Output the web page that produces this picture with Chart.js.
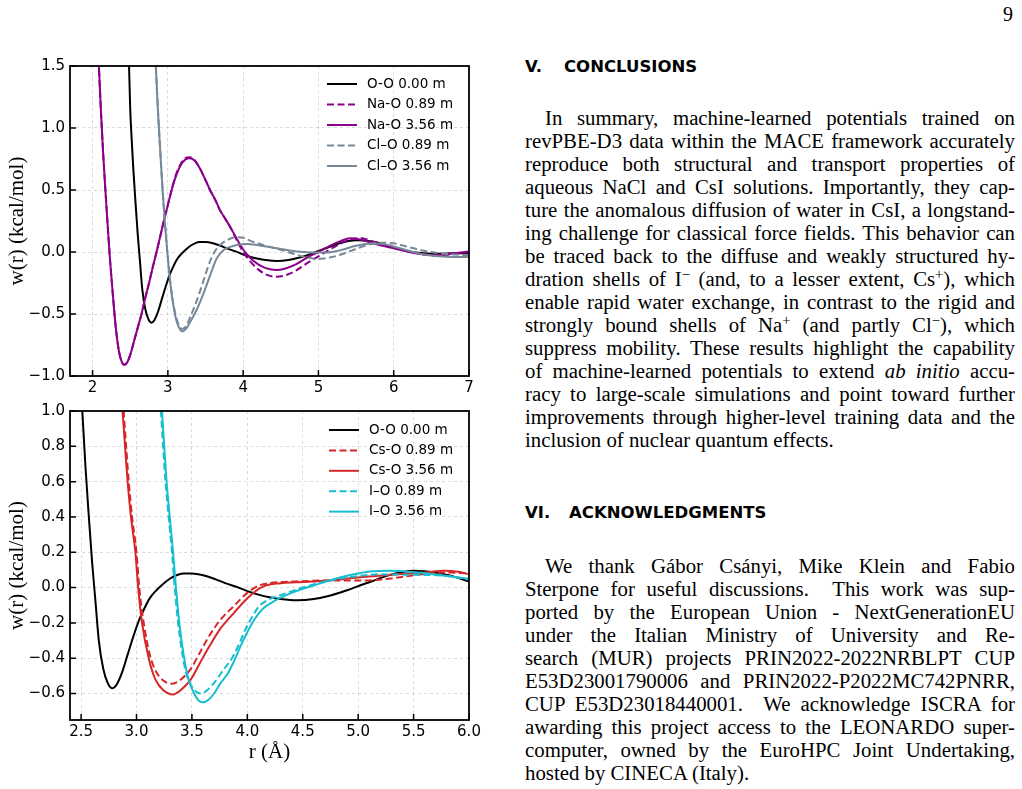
<!DOCTYPE html>
<html><head><meta charset="utf-8">
<script src="https://cdn.jsdelivr.net/npm/chart.js@4.4.1/dist/chart.umd.min.js"></script>
<style>
html,body{margin:0;padding:0;background:#fff;width:1022px;height:789px;overflow:hidden;position:relative;}
canvas{position:absolute;left:0;}
#c1{top:50px;}
#c2{top:395px;}
.ln{position:absolute;left:525px;width:490px;font-family:"Liberation Serif",serif;font-size:20.8px;line-height:23px;color:#000;text-align:justify;text-align-last:justify;}
.ln.ind{left:545px;width:470px;}
.ln.last{text-align:left;text-align-last:left;}
sup{font-size:0.7em;line-height:0;vertical-align:0.45em;}
.hd{position:absolute;font-family:"DejaVu Sans",sans-serif;font-weight:bold;font-size:16.5px;line-height:20px;color:#000;white-space:nowrap;}
.pg{position:absolute;left:1003px;top:3px;font-family:"Liberation Serif",serif;font-size:20px;line-height:23px;}
</style>
</head><body>
<div class="pg">9</div>
<canvas id="c1" width="490" height="350"></canvas>
<canvas id="c2" width="490" height="394"></canvas>

<div class="hd" style="left:525px;top:57px;">V.</div>
<div class="hd" style="left:564px;top:57px;">CONCLUSIONS</div>
<div class="ln ind" style="top:106px;">In summary, machine-learned potentials trained on</div>
<div class="ln" style="top:129px;">revPBE-D3 data within the MACE framework accurately</div>
<div class="ln" style="top:152px;">reproduce both structural and transport properties of</div>
<div class="ln" style="top:175px;">aqueous NaCl and CsI solutions. Importantly, they cap-</div>
<div class="ln" style="top:198px;">ture the anomalous diffusion of water in CsI, a longstand-</div>
<div class="ln" style="top:221px;">ing challenge for classical force fields. This behavior can</div>
<div class="ln" style="top:244px;">be traced back to the diffuse and weakly structured hy-</div>
<div class="ln" style="top:267px;">dration shells of I<sup>−</sup> (and, to a lesser extent, Cs<sup>+</sup>), which</div>
<div class="ln" style="top:290px;">enable rapid water exchange, in contrast to the rigid and</div>
<div class="ln" style="top:313px;">strongly bound shells of Na<sup>+</sup> (and partly Cl<sup>−</sup>), which</div>
<div class="ln" style="top:336px;">suppress mobility. These results highlight the capability</div>
<div class="ln" style="top:359px;">of machine-learned potentials to extend <i>ab initio</i> accu-</div>
<div class="ln" style="top:382px;">racy to large-scale simulations and point toward further</div>
<div class="ln" style="top:405px;">improvements through higher-level training data and the</div>
<div class="ln last" style="top:428px;">inclusion of nuclear quantum effects.</div>

<div class="hd" style="left:525px;top:503px;">VI.</div>
<div class="hd" style="left:569px;top:503px;">ACKNOWLEDGMENTS</div>
<div class="ln ind" style="top:554px;">We thank Gábor Csányi, Mike Klein and Fabio</div>
<div class="ln" style="top:577px;">Sterpone for useful discussions. &nbsp;This work was sup-</div>
<div class="ln" style="top:600px;">ported by the European Union - NextGenerationEU</div>
<div class="ln" style="top:623px;">under the Italian Ministry of University and Re-</div>
<div class="ln" style="top:646px;">search (MUR) projects PRIN2022-2022NRBLPT CUP</div>
<div class="ln" style="top:669px;">E53D23001790006 and PRIN2022-P2022MC742PNRR,</div>
<div class="ln" style="top:692px;">CUP E53D23018440001. &nbsp;We acknowledge ISCRA for</div>
<div class="ln" style="top:715px;">awarding this project access to the LEONARDO super-</div>
<div class="ln" style="top:738px;">computer, owned by the EuroHPC Joint Undertaking,</div>
<div class="ln last" style="top:761px;">hosted by CINECA (Italy).</div>

<script>
// ---------- tick labels ----------
const topXTicks = [2, 3, 4, 5, 6, 7];
const topYTicks = [-1.0, -0.5, 0.0, 0.5, 1.0, 1.5];
const botXTicks = [2.5, 3.0, 3.5, 4.0, 4.5, 5.0, 5.5, 6.0];
const botYTicks = [-0.6, -0.4, -0.2, 0.0, 0.2, 0.4, 0.6, 0.8, 1.0];

// ---------- O-O 0.00 m (both panels) ----------
const rOO = [2.44,2.46,2.48,2.50,2.52,2.54,2.57,2.60,2.63,2.66,2.70,2.74,2.78,2.82,2.87,2.92,2.97,3.02,3.07,3.12,3.18,3.24,3.30,3.36,3.42,3.50,3.60,3.70,3.80,3.90,4.00,4.10,4.20,4.30,4.45,4.60,4.75,4.90,5.00,5.10,5.25,5.40,5.50,5.60,5.75,5.90,6.00,6.20,6.40,6.60,6.80,7.00];
const wOO = [2.6,2.1,1.6,1.15,0.9,0.68,0.4,0.14,-0.08,-0.3,-0.46,-0.54,-0.57,-0.55,-0.48,-0.38,-0.28,-0.19,-0.12,-0.06,-0.015,0.02,0.05,0.07,0.08,0.08,0.07,0.05,0.025,0.005,-0.02,-0.04,-0.055,-0.065,-0.072,-0.065,-0.045,-0.015,0.008,0.03,0.065,0.088,0.095,0.093,0.08,0.055,0.035,0.005,-0.01,-0.015,-0.01,-0.01];

// ---------- Na-O ----------
const rNaO = [2.04,2.06,2.08,2.11,2.14,2.17,2.20,2.23,2.27,2.31,2.35,2.39,2.42,2.46,2.50,2.55,2.60,2.65,2.70,2.75,2.80,2.85,2.90,2.95,3.00,3.05,3.10,3.17,3.23,3.29,3.35,3.42,3.50,3.56,3.63,3.69,3.76,3.83,3.92,4.00,4.10,4.20,4.30,4.44,4.55,4.70,4.85,5.00,5.15,5.30,5.42,5.55,5.70,5.85,6.00,6.20,6.40,6.55,6.75,7.00];
const wNaO089 = [2.15,1.85,1.55,1.15,0.8,0.5,0.22,-0.05,-0.35,-0.62,-0.8,-0.89,-0.91,-0.89,-0.83,-0.72,-0.61,-0.5,-0.37,-0.25,-0.12,0.0,0.13,0.26,0.38,0.5,0.61,0.71,0.755,0.765,0.745,0.68,0.58,0.5,0.42,0.34,0.27,0.2,0.09,0.0,-0.08,-0.14,-0.18,-0.2,-0.19,-0.15,-0.09,-0.035,0.02,0.07,0.1,0.113,0.09,0.06,0.035,0.005,-0.02,-0.03,-0.02,0.0];
const wNaO356 = [2.15,1.85,1.55,1.15,0.8,0.5,0.22,-0.05,-0.35,-0.62,-0.8,-0.89,-0.91,-0.89,-0.83,-0.72,-0.61,-0.5,-0.37,-0.25,-0.12,0.0,0.13,0.26,0.38,0.5,0.6,0.7,0.745,0.756,0.74,0.68,0.58,0.5,0.42,0.34,0.27,0.2,0.1,0.02,-0.05,-0.1,-0.13,-0.145,-0.135,-0.1,-0.045,0.0,0.05,0.09,0.11,0.1,0.075,0.05,0.03,0.0,-0.02,-0.025,-0.015,0.005];

// ---------- Cl-O ----------
const rClO089 = [2.80,2.84,2.87,2.90,2.93,2.96,2.99,3.02,3.06,3.10,3.14,3.19,3.24,3.30,3.36,3.42,3.50,3.57,3.64,3.72,3.80,3.90,4.00,4.10,4.30,4.50,4.70,4.85,5.00,5.15,5.30,5.50,5.70,5.85,6.00,6.20,6.40,6.60,6.80,7.00];
const wClO089 = [2.0,1.5,1.12,0.8,0.5,0.24,0.02,-0.18,-0.37,-0.5,-0.58,-0.62,-0.6,-0.52,-0.43,-0.33,-0.18,-0.06,0.02,0.07,0.1,0.12,0.115,0.09,0.05,0.017,-0.02,-0.045,-0.055,-0.045,-0.02,0.025,0.065,0.075,0.07,0.04,0.01,-0.01,-0.02,-0.025];
const rClO356 = [2.80,2.84,2.87,2.90,2.93,2.96,2.99,3.02,3.06,3.10,3.14,3.19,3.24,3.30,3.38,3.47,3.56,3.65,3.75,3.85,3.95,4.05,4.20,4.40,4.60,4.80,5.00,5.15,5.30,5.50,5.70,5.85,6.00,6.20,6.40,6.60,6.80,7.00];
const wClO356 = [2.0,1.5,1.12,0.8,0.5,0.24,0.02,-0.18,-0.38,-0.52,-0.6,-0.64,-0.62,-0.56,-0.47,-0.34,-0.19,-0.05,0.02,0.045,0.06,0.065,0.055,0.035,0.015,0.0,-0.005,-0.002,0.015,0.05,0.068,0.065,0.045,0.01,-0.02,-0.035,-0.04,-0.04];

// ---------- Cs-O ----------
const rCsO089 = [2.85,2.884,2.91,2.93,2.96,3.00,3.025,3.065,3.12,3.18,3.25,3.31,3.38,3.49,3.57,3.66,3.76,3.87,4.00,4.10,4.20,4.44,4.74,5.04,5.28,5.50,5.80,6.00];
const wCsO089 = [1.3,1.0,0.77,0.6,0.4,0.2,0.0,-0.2,-0.38,-0.48,-0.53,-0.545,-0.53,-0.46,-0.37,-0.27,-0.18,-0.11,-0.03,0.01,0.025,0.035,0.04,0.04,0.05,0.07,0.085,0.08];
const rCsO356 = [2.84,2.874,2.90,2.92,2.95,2.99,3.015,3.05,3.11,3.17,3.24,3.33,3.40,3.49,3.57,3.66,3.76,3.87,4.00,4.14,4.30,4.44,4.74,5.04,5.35,5.60,5.77,5.90,6.00];
const wCsO356 = [1.3,1.0,0.77,0.6,0.4,0.2,0.0,-0.2,-0.4,-0.52,-0.58,-0.605,-0.58,-0.52,-0.43,-0.33,-0.23,-0.15,-0.06,0.005,0.025,0.03,0.04,0.06,0.075,0.085,0.095,0.09,0.075];

// ---------- I-O ----------
const rIO089 = [3.19,3.22,3.26,3.29,3.32,3.345,3.375,3.42,3.46,3.51,3.55,3.58,3.63,3.70,3.78,3.87,3.94,3.98,4.05,4.10,4.20,4.29,4.50,4.74,5.00,5.20,5.50,5.77,6.00];
const wIO089 = [1.3,1.0,0.61,0.4,0.2,0.0,-0.2,-0.4,-0.51,-0.57,-0.595,-0.6,-0.585,-0.54,-0.47,-0.39,-0.3,-0.24,-0.16,-0.11,-0.065,-0.045,0.0,0.04,0.065,0.075,0.072,0.068,0.045];
const rIO356 = [3.20,3.23,3.27,3.30,3.33,3.356,3.386,3.43,3.47,3.52,3.56,3.60,3.65,3.70,3.76,3.82,3.87,3.94,4.01,4.07,4.14,4.22,4.29,4.40,4.50,4.60,4.74,4.89,5.00,5.13,5.28,5.53,5.77,6.00];
const wIO356 = [1.3,1.0,0.61,0.4,0.2,0.0,-0.2,-0.4,-0.52,-0.6,-0.64,-0.65,-0.635,-0.6,-0.54,-0.49,-0.43,-0.33,-0.24,-0.175,-0.12,-0.085,-0.06,-0.03,-0.007,0.012,0.04,0.065,0.08,0.092,0.095,0.085,0.068,0.05];

// ---------- helpers ----------
const DASH = [7, 3.5];
function mkDs(label, r, w, color, dashed) {
  return {
    label, data: r.map((x, i) => ({x: x, y: w[i]})),
    borderColor: color, backgroundColor: color, borderWidth: 2,
    borderDash: dashed ? DASH : [], pointRadius: 0, pointHoverRadius: 0,
    fill: false, cubicInterpolationMode: 'monotone'
  };
}
const minus = s => s.replace('-', '\u2212');

const framePlugin = {
  id: 'frame',
  afterDatasetsDraw(chart) {
    const {ctx, chartArea: a, scales: {x, y}} = chart;
    ctx.save();
    ctx.strokeStyle = '#000'; ctx.lineWidth = 1.5; ctx.setLineDash([]);
    ctx.beginPath();
    x.ticks.forEach(t => { const p = x.getPixelForValue(t.value); ctx.moveTo(p, a.bottom); ctx.lineTo(p, a.bottom - 6); });
    y.ticks.forEach(t => { const p = y.getPixelForValue(t.value); ctx.moveTo(a.left, p); ctx.lineTo(a.left + 6, p); });
    ctx.stroke();
    ctx.lineWidth = 1.8;
    ctx.strokeRect(a.left, a.top, a.right - a.left, a.bottom - a.top);
    ctx.restore();
  }
};
const legendPlugin = {
  id: 'inlegend',
  afterDraw(chart, args, opts) {
    const {ctx, chartArea: a} = chart;
    ctx.save();
    ctx.font = '13.5px "DejaVu Sans"';
    ctx.textBaseline = 'middle';
    chart.data.datasets.forEach((ds, i) => {
      const yy = a.top + opts.top + i * opts.gap;
      const x0 = a.right - opts.fromRight;
      ctx.strokeStyle = ds.borderColor; ctx.lineWidth = 2;
      ctx.setLineDash(ds.borderDash || []);
      ctx.beginPath(); ctx.moveTo(x0, yy); ctx.lineTo(x0 + 30, yy); ctx.stroke();
      ctx.setLineDash([]);
      ctx.fillStyle = '#000';
      ctx.fillText(ds.label, x0 + 40, yy);
    });
    ctx.restore();
  }
};

function makeChart(id, datasets, xr, yr, xTicks, yTicks, xFmt, xTitle, pad, xH, legOpts) {
  const n = datasets.length;
  datasets.forEach((d, i) => { d.order = n - i; });
  const gridC = 'rgba(0,0,0,0.14)';
  return new Chart(document.getElementById(id), {
    type: 'line',
    data: {datasets},
    options: {
      responsive: false, animation: false, events: [],
      layout: {padding: pad},
      plugins: {legend: {display: false}, tooltip: {enabled: false}, inlegend: legOpts},
      scales: {
        x: {
          type: 'linear', min: xr[0], max: xr[1],
          afterBuildTicks: s => { s.ticks = xTicks.map(v => ({value: v})); },
          afterFit: s => { s.height = xH; },
          grid: {color: gridC, lineWidth: 1, drawTicks: false},
          border: {display: false, dash: [3, 3]},
          ticks: {color: '#000', font: {family: 'DejaVu Sans', size: 15}, padding: 3, maxRotation: 0, autoSkip: false, callback: v => xFmt(v)},
          title: xTitle ? {display: true, text: xTitle, color: '#000', font: {family: 'Liberation Serif', size: 21}, padding: {top: 0, bottom: 5}} : {display: false}
        },
        y: {
          type: 'linear', min: yr[0], max: yr[1],
          afterBuildTicks: s => { s.ticks = yTicks.map(v => ({value: v})); },
          afterFit: s => { s.width = 70; },
          grid: {color: gridC, lineWidth: 1, drawTicks: false},
          border: {display: false, dash: [3, 3]},
          ticks: {color: '#000', font: {family: 'DejaVu Sans', size: 15}, padding: 5, autoSkip: false, callback: v => minus(Number(v).toFixed(1))},
          title: {display: true, text: 'w(r) (kcal/mol)', color: '#000', font: {family: 'Liberation Serif', size: 21}, padding: {top: 5, bottom: 0}}
        }
      }
    },
    plugins: [framePlugin, legendPlugin]
  });
}

makeChart('c1', [
  mkDs('O-O 0.00 m', rOO, wOO, '#000000', false),
  mkDs('Na-O 0.89 m', rNaO, wNaO089, '#8b008b', true),
  mkDs('Na-O 3.56 m', rNaO, wNaO356, '#8b008b', false),
  mkDs('Cl\u2013O 0.89 m', rClO089, wClO089, '#778899', true),
  mkDs('Cl\u2013O 3.56 m', rClO356, wClO356, '#778899', false)
], [1.7, 7.0], [-1.0, 1.5], topXTicks, topYTicks, v => String(v), null,
   {left: 0, top: 16, right: 21, bottom: 0}, 24, {top: 18, gap: 20.5, fromRight: 142});

makeChart('c2', [
  mkDs('O-O 0.00 m', rOO, wOO, '#000000', false),
  mkDs('Cs-O 0.89 m', rCsO089, wCsO089, '#d62728', true),
  mkDs('Cs-O 3.56 m', rCsO356, wCsO356, '#d62728', false),
  mkDs('I\u2013O 0.89 m', rIO089, wIO089, '#17becf', true),
  mkDs('I\u2013O 3.56 m', rIO356, wIO356, '#17becf', false)
], [2.4, 6.0], [-0.75, 1.0], botXTicks, botYTicks, v => Number(v).toFixed(1), 'r (\u00c5)',
   {left: 0, top: 16, right: 21, bottom: 19}, 50, {top: 19, gap: 20.4, fromRight: 140});
</script>
</body></html>
